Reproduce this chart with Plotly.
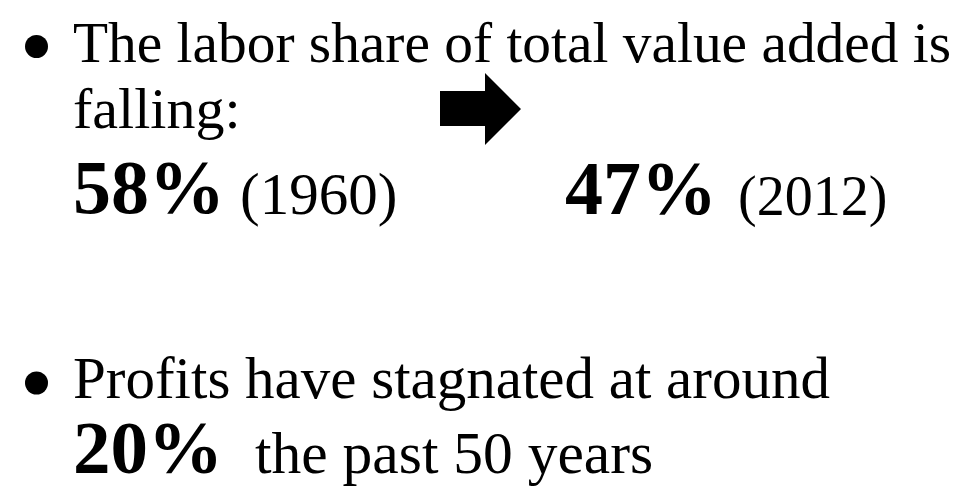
import plotly.graph_objects as go

# ---- data ----
labor_share_pct = [58, 47]          # labor share of total value added, %
labor_share_years = [1960, 2012]    # years of the two labor-share figures
profit_share_pct = [20]             # profits share, %
profit_span_years = [50]            # "the past 50 years"

W, H = 966, 489
FONT = "Liberation Serif"

fig = go.Figure()
fig.add_trace(go.Scatter(x=[None], y=[None], showlegend=False, hoverinfo="skip"))


def txt(x, y, text, size, bold=False):
    if bold:
        text = f"<b>{text}</b>"
    fig.add_annotation(
        x=x, y=y, xref="x", yref="y", text=text, showarrow=False,
        xanchor="left", yanchor="middle",
        font=dict(family=FONT, size=size, color="black"),
    )


def center_from_baseline(baseline, size):
    # Liberation Serif: ascent 0.891, descent 0.216 -> centre of the text box
    return baseline - (1.107 / 2 - 0.216) * size


# first bullet
txt(63, center_from_baseline(54, 57.4), "The labor share of total value added is", 57.4)
txt(63, center_from_baseline(120, 58), "falling:", 58)
txt(63, center_from_baseline(205, 76), f"{labor_share_pct[0]}%", 76, bold=True)
txt(230, center_from_baseline(206, 59), f"({labor_share_years[0]})", 59)
txt(555, center_from_baseline(206, 76), f"{labor_share_pct[1]}%", 76, bold=True)
txt(728, center_from_baseline(207, 56), f"({labor_share_years[1]})", 56)

# second bullet
txt(63, center_from_baseline(390, 59), "Profits have stagnated at around", 59)
txt(63, center_from_baseline(465, 75), f"{profit_share_pct[0]}%", 75, bold=True)
txt(245, center_from_baseline(465, 59.5), f"the past {profit_span_years[0]} years", 59.5)

# bullets
for cy in (38.5, 375):
    fig.add_shape(type="circle", xref="x", yref="y",
                  x0=17, x1=40, y0=cy - 11.5, y1=cy + 11.5,
                  fillcolor="black", line=dict(width=0))

# block arrow
fig.add_shape(type="path", xref="x", yref="y",
              path="M 432 83 L 477 83 L 477 65 L 513 101 L 477 137 L 477 118 L 432 118 Z",
              fillcolor="black", line=dict(width=0))

fig.update_layout(
    width=W, height=H,
    margin=dict(l=0, r=0, t=0, b=0),
    paper_bgcolor="white", plot_bgcolor="white",
    xaxis=dict(range=[0, W], visible=False, fixedrange=True),
    yaxis=dict(range=[H, 0], visible=False, fixedrange=True),
    showlegend=False,
)

fig.write_html("out.html")
